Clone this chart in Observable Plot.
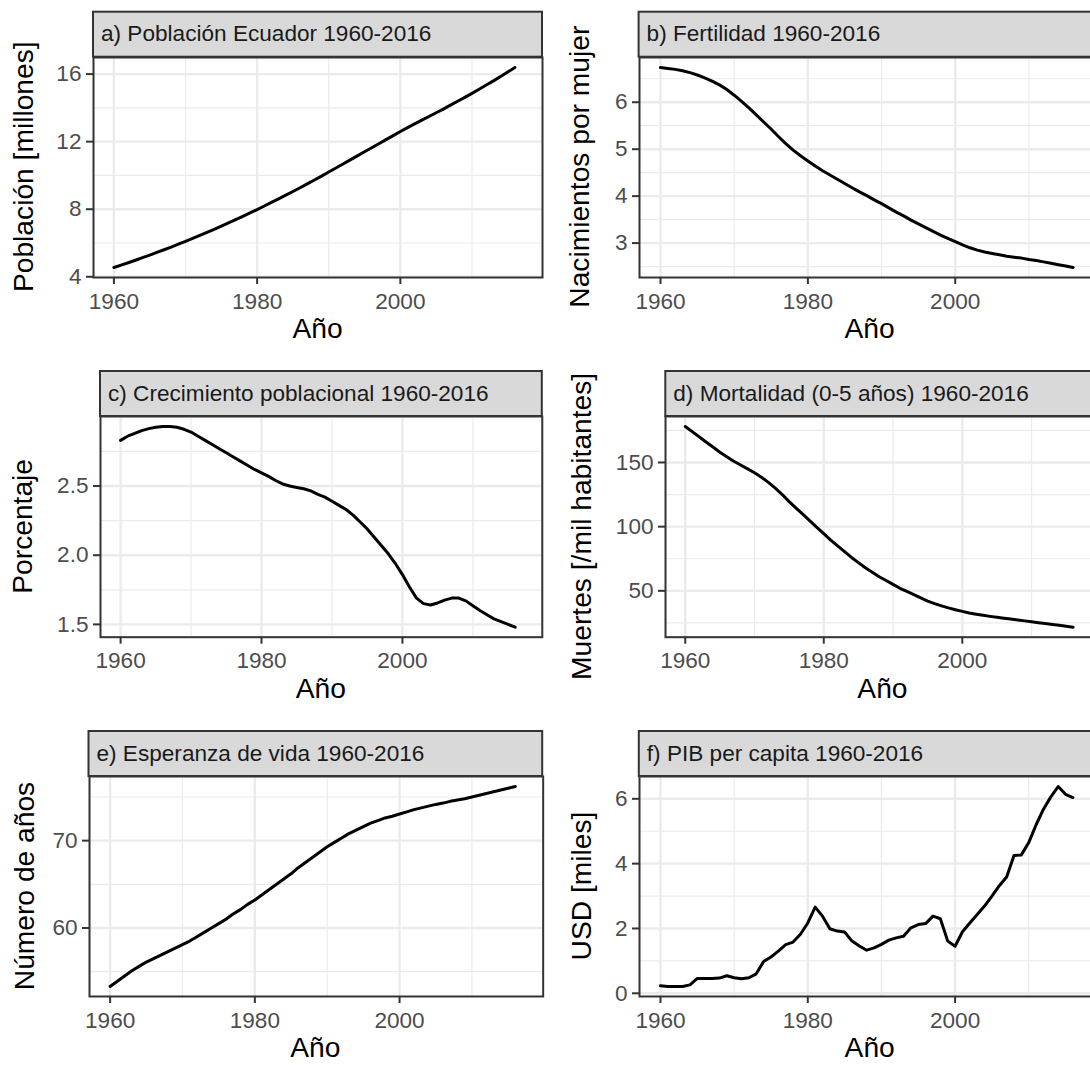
<!DOCTYPE html>
<html>
<head>
<meta charset="utf-8">
<script src="https://cdn.jsdelivr.net/npm/d3@7"></script>
<script src="https://cdn.jsdelivr.net/npm/@observablehq/plot@0.6"></script>
<style>
  html, body { margin: 0; padding: 0; background: #ffffff; }
  #chart { position: relative; width: 1090px; height: 1065px; overflow: hidden; background: #ffffff;
           font-family: "Liberation Sans", Arial, sans-serif; }
  #chart > svg { position: absolute; }
</style>
</head>
<body>
<div id="chart"></div>
<script>
// ---------------- data ----------------
const years = [1960,1961,1962,1963,1964,1965,1966,1967,1968,1969,
               1970,1971,1972,1973,1974,1975,1976,1977,1978,1979,
               1980,1981,1982,1983,1984,1985,1986,1987,1988,1989,
               1990,1991,1992,1993,1994,1995,1996,1997,1998,1999,
               2000,2001,2002,2003,2004,2005,2006,2007,2008,2009,
               2010,2011,2012,2013,2014,2015,2016];

// a) Población (millones)
const poblacion = [4.55,4.69,4.83,4.98,5.13,5.28,5.44,5.60,5.76,5.93,
                   6.10,6.27,6.45,6.63,6.81,7.00,7.19,7.38,7.58,7.78,
                   7.98,8.19,8.40,8.61,8.83,9.05,9.27,9.50,9.73,9.96,
                   10.20,10.44,10.68,10.92,11.16,11.40,11.64,11.88,12.12,12.36,
                   12.60,12.83,13.05,13.27,13.49,13.71,13.93,14.16,14.39,14.62,
                   14.86,15.10,15.35,15.60,15.86,16.12,16.39];

// b) Fertilidad (nacimientos por mujer)
const fertilidad = [6.74,6.72,6.70,6.67,6.63,6.58,6.52,6.45,6.37,6.27,
                    6.15,6.02,5.88,5.73,5.58,5.43,5.27,5.12,4.98,4.86,
                    4.75,4.64,4.54,4.45,4.36,4.27,4.18,4.09,4.01,3.92,
                    3.84,3.75,3.66,3.58,3.49,3.41,3.33,3.25,3.17,3.10,
                    3.03,2.96,2.90,2.85,2.81,2.78,2.75,2.72,2.70,2.68,
                    2.65,2.63,2.60,2.57,2.54,2.51,2.48];

// c) Crecimiento poblacional (%)
const crecimiento = [2.83,2.86,2.88,2.90,2.915,2.925,2.93,2.93,2.925,2.91,
                     2.89,2.86,2.83,2.80,2.77,2.74,2.71,2.68,2.65,2.62,
                     2.595,2.57,2.54,2.515,2.50,2.49,2.48,2.465,2.44,2.42,
                     2.39,2.36,2.33,2.29,2.24,2.19,2.13,2.07,2.01,1.94,
                     1.86,1.77,1.69,1.65,1.64,1.655,1.675,1.69,1.69,1.67,
                     1.635,1.60,1.57,1.54,1.52,1.50,1.48];

// d) Mortalidad 0-5 años (/mil habitantes)
const mortalidad = [178,174,170,166,162,158,154.5,151,148,145,
                    142,138.5,134.5,130,125,119.5,114.5,109.5,104.5,99.5,
                    94.5,89.5,85,80.5,76,72,68,64.5,61,58,
                    55,52,49.5,47,44.5,42,40,38.3,36.7,35.3,
                    34,32.8,31.8,30.9,30.1,29.4,28.7,28,27.3,26.6,
                    25.9,25.2,24.5,23.8,23.1,22.4,21.7];

// e) Esperanza de vida (años)
const esperanza = [53.3,53.9,54.5,55.1,55.6,56.1,56.5,56.9,57.3,57.7,
                   58.1,58.5,59.0,59.5,60.0,60.5,61.0,61.6,62.1,62.7,
                   63.2,63.8,64.4,65.0,65.6,66.2,66.9,67.5,68.1,68.7,
                   69.3,69.8,70.3,70.8,71.2,71.6,72.0,72.3,72.6,72.8,
                   73.05,73.3,73.55,73.75,73.95,74.15,74.3,74.5,74.65,74.8,
                   75.0,75.2,75.4,75.6,75.8,76.0,76.2];

// f) PIB per capita (miles USD)
const pib = [0.23,0.21,0.21,0.21,0.26,0.46,0.46,0.46,0.47,0.54,
             0.48,0.45,0.48,0.60,0.98,1.12,1.30,1.50,1.58,1.82,
             2.17,2.66,2.38,1.99,1.92,1.89,1.61,1.46,1.33,1.40,
             1.51,1.64,1.71,1.76,2.02,2.12,2.15,2.38,2.30,1.61,
             1.45,1.90,2.17,2.43,2.69,3.00,3.32,3.59,4.25,4.27,
             4.65,5.20,5.68,6.06,6.38,6.14,6.04];

// axis ticks
const xDomain = [1957.15, 2019.85];
const xMajor = [1960, 1980, 2000];
const xMinor = [1970, 1990, 2010];

const stripTitles = ["a) Población Ecuador 1960-2016", "b) Fertilidad 1960-2016",
                     "c) Crecimiento poblacional 1960-2016", "d) Mortalidad (0-5 años) 1960-2016",
                     "e) Esperanza de vida 1960-2016", "f) PIB per capita 1960-2016"];
const yTitles = ["Población [millones]", "Nacimientos por mujer", "Porcentaje",
                 "Muertes [/mil habitantes]", "Número de años", "USD [miles]"];
const xTitle = "Año";

const yMajorTicks = [[4, 8, 12, 16], [3, 4, 5, 6], [1.5, 2.0, 2.5], [50, 100, 150], [60, 70], [0, 2, 4, 6]];
const yMinorTicks = [[6, 10, 14], [2.5, 3.5, 4.5, 5.5, 6.5], [1.75, 2.25, 2.75], [25, 75, 125, 175], [55, 65, 75], [1, 3, 5]];
const series = [poblacion, fertilidad, crecimiento, mortalidad, esperanza, pib];

// ---------------- layout (page pixels) ----------------
const layout = [
  {L: 93.0,  R: 542.0,  T: 56.7,  B: 276.7, tx: 33,    fmt: d => String(d)},
  {L: 638.6, R: 1100.6, T: 56.7,  B: 276.7, tx: 588.5, fmt: d => String(d)},
  {L: 100.0, R: 541.8,  T: 416.0, B: 636.7, tx: 32,    fmt: d => d.toFixed(1)},
  {L: 665.3, R: 1099.6, T: 416.0, B: 636.7, tx: 591,   fmt: d => String(d)},
  {L: 88.5,  R: 542.2,  T: 776.0, B: 996.0, tx: 34,    fmt: d => String(d)},
  {L: 638.8, R: 1100.6, T: 776.0, B: 996.0, tx: 591,   fmt: d => String(d)}
];

const FONT = "'Liberation Sans', Arial, sans-serif";
const TICK_FS = 22.6, TITLE_FS = 28.2;
const padL = 90, padR = 10, padT = 10, padB = 60;

function expand([a, b]) { const p = (b - a) * 0.05; return [a - p, b + p]; }

const chart = document.getElementById("chart");

series.forEach((vals, i) => {
  const g = layout[i];
  const rows = years.map((year, k) => ({year, value: vals[k]}));
  const W = (g.R - g.L) + padL + padR;
  const H = (g.B - g.T) + padT + padB;
  const gridStyle = {stroke: "#EBEBEB", strokeOpacity: 1};
  const svg = Plot.plot({
    width: W, height: H,
    marginLeft: padL, marginRight: padR, marginTop: padT, marginBottom: padB,
    style: {background: "transparent", maxWidth: "none", overflow: "visible",
            fontFamily: FONT, fontSize: TICK_FS + "px"},
    x: {domain: xDomain, label: null},
    y: {domain: expand(d3.extent(vals)), label: null},
    marks: [
      Plot.gridX(xMinor, {...gridStyle, strokeWidth: 1.2}),
      Plot.gridY(yMinorTicks[i], {...gridStyle, strokeWidth: 1.2}),
      Plot.gridX(xMajor, {...gridStyle, strokeWidth: 2.4}),
      Plot.gridY(yMajorTicks[i], {...gridStyle, strokeWidth: 2.4}),
      Plot.line(rows, {x: "year", y: "value", stroke: "#000000", strokeWidth: 3}),
      Plot.frame({stroke: "#333333", strokeWidth: 2}),
      Plot.axisX(xMajor, {tickSize: 7, tickPadding: 8, stroke: "#333333", strokeWidth: 2,
                          fill: "#4D4D4D", fontSize: TICK_FS, tickFormat: d => String(d), label: null}),
      Plot.axisY(yMajorTicks[i], {tickSize: 7, tickPadding: 5, stroke: "#333333", strokeWidth: 2,
                                  fill: "#4D4D4D", fontSize: TICK_FS, tickFormat: g.fmt, label: null})
    ]
  });
  svg.style.left = (g.L - padL) + "px";
  svg.style.top = (g.T - padT) + "px";
  chart.appendChild(svg);
});

// ---------------- strips and titles ----------------
const overlay = d3.create("svg")
  .attr("width", 1090).attr("height", 1065)
  .style("left", "0px").style("top", "0px")
  .style("pointer-events", "none")
  .style("font-family", FONT);

layout.forEach((g, i) => {
  overlay.append("rect")
    .attr("x", g.L).attr("y", g.T - 45)
    .attr("width", g.R - g.L).attr("height", 45)
    .attr("fill", "#D9D9D9").attr("stroke", "#333333").attr("stroke-width", 2);
  overlay.append("text")
    .attr("x", g.L + 8).attr("y", g.T - 15.5)
    .attr("font-size", TICK_FS).attr("fill", "#1A1A1A")
    .text(stripTitles[i]);
  const cy = (g.T + g.B) / 2;
  overlay.append("text")
    .attr("transform", `translate(${g.tx},${cy}) rotate(-90)`)
    .attr("text-anchor", "middle")
    .attr("font-size", TITLE_FS).attr("fill", "#000000")
    .text(yTitles[i]);
  overlay.append("text")
    .attr("x", (g.L + g.R) / 2).attr("y", g.B + 61)
    .attr("text-anchor", "middle")
    .attr("font-size", TITLE_FS).attr("fill", "#000000")
    .text(xTitle);
});

chart.appendChild(overlay.node());
</script>
</body>
</html>
